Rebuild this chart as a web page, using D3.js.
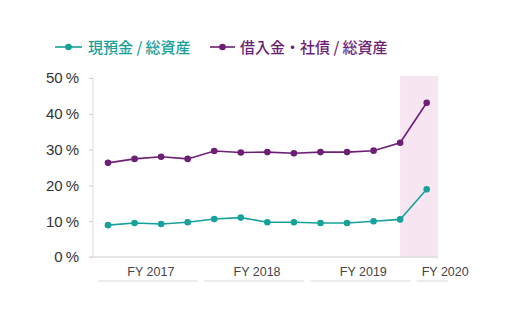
<!DOCTYPE html>
<html><head><meta charset="utf-8">
<script src="https://cdn.jsdelivr.net/npm/d3@7"></script>
<style>body{margin:0;background:#fff}svg{display:block}</style>
</head><body>
<script>
const quarters = ["2017Q1","2017Q2","2017Q3","2017Q4","2018Q1","2018Q2","2018Q3","2018Q4","2019Q1","2019Q2","2019Q3","2019Q4","2020Q1"];
const cashRatio = [8.9, 9.5, 9.2, 9.7, 10.6, 11.0, 9.7, 9.7, 9.5, 9.5, 10.0, 10.5, 18.9];
const debtRatio = [26.3, 27.4, 28.0, 27.4, 29.6, 29.2, 29.3, 29.0, 29.3, 29.3, 29.7, 31.9, 43.1];
const fyLabels = ["FY 2017","FY 2018","FY 2019","FY 2020"];
const fyGroups = [[0,3],[4,7],[8,11],[12,12]];
const yTicks = [0,10,20,30,40,50];
const seriesNames = ["現預金 / 総資産","借入金・社債 / 総資産"];

const W=512,H=326;
const teal="#16a19a", purple="#6c1f75";
const svg=d3.select("body").append("svg").attr("width",W).attr("height",H);
const x=d3.scaleLinear().domain([0,quarters.length-1]).range([108,426.7]);
const y=d3.scaleLinear().domain([0,50]).range([257,78]);
const axisL=93, axisR=438;

// highlight band
svg.append("rect").attr("x",x(11)).attr("y",76).attr("width",axisR-x(11)).attr("height",y(0)-76).attr("fill","#f8e5f2");

// y axis
const yAxis=d3.axisLeft(y).tickValues(yTicks).tickSize(4).tickFormat(d=>d+"\u2009%");
const ga=svg.append("g").attr("transform",`translate(${axisL},0)`).call(yAxis);
ga.select(".domain").remove();
ga.append("line").attr("x1",0).attr("x2",0).attr("y1",y(50)).attr("y2",y(0)).attr("stroke","#ddd");
ga.selectAll(".tick line").attr("stroke","#ccc");
ga.selectAll(".tick text").attr("x",-14).attr("fill","#333").style("font-family","'Liberation Sans',Arial,sans-serif").style("font-size","15px");
// baseline
svg.append("line").attr("x1",axisL-4).attr("x2",axisR).attr("y1",y(0)).attr("y2",y(0)).attr("stroke","#ddd").attr("stroke-width",1.5);

// FY labels and underlines
fyGroups.forEach((g,i)=>{
  const x0=x(g[0])-10, x1=i===3?x(g[1])+21:x(g[1])+10;
  svg.append("line").attr("x1",x0).attr("x2",x1).attr("y1",281).attr("y2",281).attr("stroke","#e6e6e6").attr("stroke-width",1.5);
  const t=svg.append("text").attr("y",276).attr("fill","#444")
    .style("font-family","'Liberation Sans',Arial,sans-serif").style("font-size","12.5px").text(fyLabels[i]);
  if(i===3) t.attr("x",x0+5).attr("text-anchor","start");
  else t.attr("x",(x0+x1)/2+3).attr("text-anchor","middle");
});

// lines
const line=d3.line().x((d,i)=>x(i)).y(d=>y(d));
[[cashRatio,teal],[debtRatio,purple]].forEach(([data,c])=>{
  svg.append("path").datum(data).attr("d",line).attr("fill","none").attr("stroke",c).attr("stroke-width",1.6);
  svg.selectAll(null).data(data).enter().append("circle").attr("cx",(d,i)=>x(i)).attr("cy",d=>y(d)).attr("r",3.3).attr("fill",c);
});

// legend
const leg=[{x0:55,x1:82,tx:88,c:teal,name:seriesNames[0]},{x0:210,x1:235,tx:240,c:purple,name:seriesNames[1]}];
leg.forEach(l=>{
  svg.append("line").attr("x1",l.x0).attr("x2",l.x1).attr("y1",47).attr("y2",47).attr("stroke",l.c).attr("stroke-width",1.6);
  svg.append("circle").attr("cx",(l.x0+l.x1)/2).attr("cy",47).attr("r",3.3).attr("fill",l.c);
  svg.append("text").attr("x",l.tx).attr("y",52.5).attr("fill",l.c)
    .style("font-family","'Noto Sans CJK JP',sans-serif").style("font-size","15px").style("font-weight","500").text(l.name);
});
</script>
</body></html>
